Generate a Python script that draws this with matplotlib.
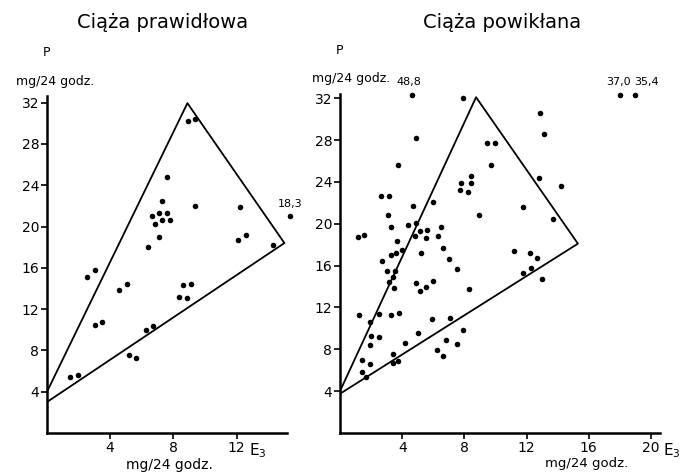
import numpy as np
import matplotlib
matplotlib.use("Agg")
import matplotlib.pyplot as plt

# Ciąża prawidłowa: E3 vs P (mg/24 godz.)
e3_norm = [8.9, 9.4, 7.6, 7.3, 9.35, 12.2, 6.67, 7.1, 7.6, 7.3, 7.8, 6.84, 7.1, 6.4,
           12.1, 12.57, 14.3, 2.52, 3.03, 4.53, 5.04, 3.03, 3.47, 1.48, 1.97, 5.2,
           5.65, 6.29, 6.73, 8.34, 8.63, 9.1, 8.87]
p_norm = [30.2, 30.4, 24.8, 22.5, 22.0, 21.9, 21.0, 21.35, 21.3, 20.6, 20.6, 20.2, 19.0, 18.0,
          18.7, 19.2, 18.2, 15.1, 15.75, 13.9, 14.4, 10.5, 10.8, 5.4, 5.6, 7.6,
          7.3, 10.0, 10.4, 13.2, 14.3, 14.4, 13.1]
# off-scale point (E3 beyond the axis)
e3_norm_off = [18.3]
p_norm_off = [21.0]

# Ciąża powikłana
e3_comp = [7.9, 4.9, 3.7, 9.44, 10.0, 9.7, 8.4, 7.8, 8.4, 7.7, 8.26, 2.66, 3.18, 4.67, 6.0,
           3.07, 8.95, 3.3, 4.4, 4.86, 1.14, 1.57, 3.68, 4.84, 5.16, 5.6, 5.5, 6.28, 6.5,
           6.65, 4.0, 3.6, 3.3, 5.2, 2.7, 7.0, 7.5, 3.0, 3.55, 3.44, 3.12, 3.46, 4.88,
           5.14, 5.55, 6.0, 8.28, 1.2, 1.9, 2.54, 3.27, 3.79, 2.0, 1.9, 2.54, 1.4, 1.9,
           1.4, 1.66, 4.2, 3.44, 3.4, 3.72, 5.0, 5.9, 7.08, 7.9, 6.8, 7.55, 6.24, 6.6,
           12.84, 13.1, 12.8, 14.2, 11.74, 13.7, 11.2, 12.2, 12.7, 11.8, 12.3, 13.0]
p_comp = [32.0, 28.2, 25.6, 27.7, 27.7, 25.6, 24.6, 23.9, 23.9, 23.2, 23.0, 22.7, 22.7, 21.7, 22.1,
          20.8, 20.8, 19.7, 19.9, 20.1, 18.7, 18.9, 18.4, 18.8, 19.3, 19.4, 18.6, 18.8, 19.7,
          17.7, 17.5, 17.2, 17.0, 17.2, 16.4, 16.6, 15.7, 15.5, 15.5, 14.9, 14.4, 13.9, 14.3,
          13.6, 14.0, 14.5, 13.8, 11.25, 10.6, 11.4, 11.25, 11.5, 9.3, 8.4, 9.2, 7.0, 6.6,
          5.86, 5.4, 8.6, 7.6, 6.66, 6.9, 9.6, 10.9, 11.0, 9.85, 8.9, 8.5, 7.9, 7.4,
          30.6, 28.6, 24.4, 23.6, 21.6, 20.5, 17.4, 17.2, 16.7, 15.3, 15.8, 14.7]
# off-scale points (P above the axis)
e3_comp_off = [4.6, 18.0, 18.95]
p_comp_off = [48.8, 37.0, 35.4]

# triangle outlines: upper start, apex, right corner, lower start
tri_norm_x = [0, 8.89, 15.03, 0]
tri_norm_y = [4.0, 31.95, 18.4, 3.0]
tri_comp_x = [0, 8.75, 15.3, 0]
tri_comp_y = [4.0, 32.1, 18.1, 3.75]

yticks = [4, 8, 12, 16, 20, 24, 28, 32]

plt.rcParams['font.family'] = ['DejaVu Sans']

fig = plt.figure(figsize=(6.86, 4.74), dpi=100)
ax1 = fig.add_axes([0.0685, 0.0865, 0.35, 0.71])
ax2 = fig.add_axes([0.4956, 0.0865, 0.467, 0.715])


def fmt(v):
    return ('%.1f' % v).replace('.', ',')


def setup(ax, xmax, xticks, ymax):
    ax.set_xlim(0, xmax)
    ax.set_ylim(0, ymax)
    for s in ['top', 'right']:
        ax.spines[s].set_visible(False)
    for s in ['left', 'bottom']:
        ax.spines[s].set_linewidth(1.8)
    ax.set_xticks(xticks)
    ax.set_yticks(yticks)
    ax.tick_params(direction='out', length=4, width=1.2, labelsize=10, pad=1.5)
    ax.text(0, 1.13, 'P', transform=ax.transAxes, ha='center', va='center', fontsize=9)
    ax.text(0.035, 1.045, 'mg/24 godz.', transform=ax.transAxes, ha='center',
            va='center', fontsize=9)


dot = dict(s=16, color='black', zorder=3, clip_on=False, linewidths=0)

# left panel
setup(ax1, 15.2, [4, 8, 12], 32.6)
ax1.plot(tri_norm_x, tri_norm_y, color='black', lw=1.3)
ax1.scatter(e3_norm, p_norm, **dot)
xcap = 15.4
for x, y in zip(e3_norm_off, p_norm_off):
    ax1.scatter([min(x, xcap)], [y], **dot)
    ax1.text(min(x, xcap), y + 0.7, fmt(x), ha='center', va='bottom', fontsize=8)
ax1.text(0.88, -0.052, 'E$_3$', transform=ax1.transAxes, ha='center', va='center', fontsize=11)
ax1.text(0.51, -0.094, 'mg/24 godz.', transform=ax1.transAxes, ha='center', va='center', fontsize=10)
fig.text(0.237, 0.952, 'Ciąża prawidłowa', ha='center', va='center', fontsize=14)

# right panel
setup(ax2, 20.6, [4, 8, 12, 16, 20], 32.4)
ax2.plot(tri_comp_x, tri_comp_y, color='black', lw=1.3)
ax2.scatter(e3_comp, p_comp, **dot)
ycap = 32.3
shifts = [-0.2, -0.1, 0.75]
for x, y, dx in zip(e3_comp_off, p_comp_off, shifts):
    ax2.scatter([x], [min(y, ycap)], **dot)
    ax2.text(x + dx, min(y, ycap) + 0.8, fmt(y), ha='center', va='bottom', fontsize=8)
ax2.text(1.035, -0.052, 'E$_3$', transform=ax2.transAxes, ha='center', va='center', fontsize=11)
ax2.text(0.77, -0.091, 'mg/24 godz.', transform=ax2.transAxes, ha='center', va='center', fontsize=9.5)
fig.text(0.732, 0.952, 'Ciąża powikłana', ha='center', va='center', fontsize=14)

fig.savefig('out.png', dpi=100)
